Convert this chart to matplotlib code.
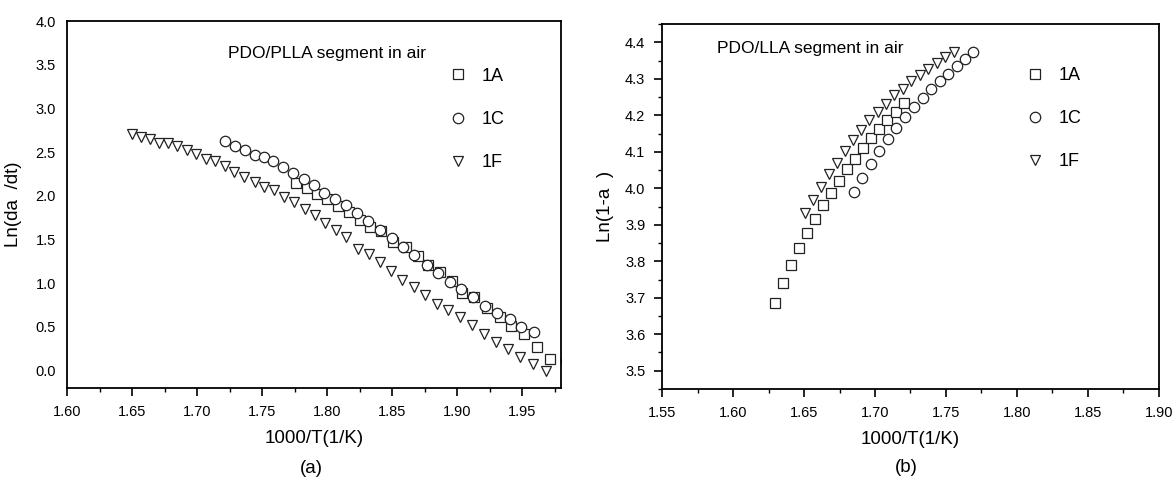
"""Two-panel Arrhenius-style scatter: PDO/PLLA (a) and PDO/LLA (b) segments in air."""
import numpy as np
import matplotlib
matplotlib.use("Agg")
import matplotlib.pyplot as plt
from matplotlib.ticker import MultipleLocator

plt.rcParams["font.family"] = ["Liberation Sans", "DejaVu Sans"]

# ---- panel (a): Ln(da/dt) vs 1000/T ----
a_x_1A = [1.776, 1.7842, 1.7921, 1.8003, 1.8085, 1.817, 1.8251, 1.8333, 1.8418,
          1.851, 1.8607, 1.8696, 1.878, 1.887, 1.8959, 1.9041, 1.913, 1.9232,
          1.9329, 1.9418, 1.9513, 1.9615, 1.9712]
a_y_1A = [2.147, 2.089, 2.024, 1.96, 1.883, 1.814, 1.727, 1.643, 1.593,
          1.474, 1.417, 1.314, 1.207, 1.131, 1.028, 0.883, 0.837, 0.719,
          0.616, 0.513, 0.414, 0.265, 0.132]

a_x_1C = [1.7213, 1.7292, 1.7368, 1.7444, 1.7518, 1.7588, 1.7664, 1.774, 1.7819,
          1.7898, 1.798, 1.8061, 1.8143, 1.8231, 1.8316, 1.8404, 1.85, 1.8587,
          1.867, 1.877, 1.8857, 1.8946, 1.9028, 1.9125, 1.9214, 1.9304, 1.9406,
          1.9495, 1.9589, 1.9835]
a_y_1C = [2.628, 2.567, 2.521, 2.464, 2.445, 2.395, 2.33, 2.265, 2.189,
          2.12, 2.036, 1.96, 1.891, 1.803, 1.707, 1.612, 1.52, 1.417,
          1.32, 1.207, 1.12, 1.016, 0.932, 0.837, 0.742, 0.654, 0.589,
          0.501, 0.437, 0.11]

a_x_1F = [1.6497, 1.657, 1.6637, 1.671, 1.6775, 1.6848, 1.692, 1.6994, 1.7067,
          1.714, 1.7213, 1.7287, 1.736, 1.7442, 1.7515, 1.7594, 1.7667, 1.7746,
          1.7827, 1.7904, 1.7988, 1.8067, 1.8149, 1.8237, 1.8319, 1.8404, 1.8491,
          1.8579, 1.8667, 1.8754, 1.8842, 1.893, 1.902, 1.9114, 1.9208, 1.9298,
          1.9392, 1.9488, 1.9582, 1.9684]
a_y_1F = [2.712, 2.674, 2.647, 2.609, 2.609, 2.571, 2.521, 2.483, 2.426,
          2.395, 2.342, 2.273, 2.216, 2.158, 2.101, 2.063, 1.987, 1.93,
          1.853, 1.777, 1.688, 1.604, 1.528, 1.394, 1.337, 1.241, 1.138,
          1.039, 0.955, 0.859, 0.764, 0.688, 0.611, 0.516, 0.42, 0.325,
          0.248, 0.16, 0.076, 0.0]

# ---- panel (b): Ln(1-a) vs 1000/T ----
b_x_1A = [1.6296, 1.6355, 1.6411, 1.6464, 1.6518, 1.6577, 1.6633, 1.6689, 1.6745,
          1.6801, 1.6857, 1.6913, 1.6972, 1.7031, 1.7087, 1.7146, 1.7205]
b_y_1A = [3.687, 3.74, 3.789, 3.836, 3.877, 3.917, 3.953, 3.988, 4.02,
          4.052, 4.081, 4.109, 4.137, 4.163, 4.188, 4.209, 4.234]

b_x_1C = [1.6852, 1.6911, 1.6969, 1.7025, 1.709, 1.7151, 1.7213, 1.7274, 1.7335,
          1.7397, 1.7458, 1.7517, 1.7576, 1.7632, 1.7691]
b_y_1C = [3.99, 4.029, 4.067, 4.102, 4.136, 4.166, 4.195, 4.223, 4.247,
          4.271, 4.293, 4.314, 4.334, 4.353, 4.373]

b_x_1F = [1.6507, 1.6566, 1.6619, 1.6676, 1.6734, 1.6788, 1.6847, 1.6903, 1.6959,
          1.7018, 1.7079, 1.7135, 1.7194, 1.7255, 1.7314, 1.7373, 1.7434, 1.7496,
          1.7557]
b_y_1F = [3.931, 3.967, 4.003, 4.038, 4.07, 4.102, 4.132, 4.159, 4.187,
          4.209, 4.232, 4.255, 4.273, 4.293, 4.31, 4.328, 4.343, 4.359,
          4.373]

labels = ["1A", "1C", "1F"]
markers = ["s", "o", "v"]
msizes = {"s": 6.5, "o": 7.5, "v": 7.5}


def scatter_panel(ax, series, note, note_xy, leg_anchor):
    for (x, y), lab, m in zip(series, labels, markers):
        ax.plot(x, y, linestyle="none", marker=m, markersize=msizes[m],
                markerfacecolor="white", markeredgecolor="#222222",
                markeredgewidth=0.9, label=lab)
    ax.text(*note_xy, note, transform=ax.transAxes, ha="center", va="center",
            fontsize=12.5)
    ax.legend(loc="center left", bbox_to_anchor=leg_anchor, frameon=False,
              fontsize=13, handlelength=1.0, handletextpad=0.8,
              labelspacing=1.45, borderpad=0, borderaxespad=0, numpoints=1)
    for s in ax.spines.values():
        s.set_linewidth(1.3)
    ax.tick_params(labelsize=10.5)


fig = plt.figure(figsize=(11.74, 4.84), dpi=100)
ax1 = fig.add_axes([0.0571, 0.1983, 0.4208, 0.7583])
ax2 = fig.add_axes([0.5639, 0.1963, 0.4233, 0.754])

scatter_panel(ax1, [(a_x_1A, a_y_1A), (a_x_1C, a_y_1C), (a_x_1F, a_y_1F)],
              "PDO/PLLA segment in air", (0.526, 0.912), (0.774, 0.732))
ax1.set_xlim(1.60, 1.98)
ax1.set_ylim(-0.2, 4.0)
ax1.xaxis.set_minor_locator(MultipleLocator(0.025))
ax1.yaxis.set_major_locator(MultipleLocator(0.5))
ax1.set_xticks(np.arange(1.60, 1.96, 0.05))
ax1.set_xticklabels([f"{v:.2f}" for v in np.arange(1.60, 1.96, 0.05)])
ax1.tick_params(axis="x", which="major", direction="out", length=6, width=1.2, pad=6)
ax1.tick_params(axis="x", which="minor", direction="out", length=3, width=1.0)
ax1.tick_params(axis="y", which="major", length=0, pad=8)
ax1.set_xlabel("1000/T(1/K)", fontsize=13.5, labelpad=8)
ax1.set_ylabel("Ln(da  /dt)", fontsize=13.5, labelpad=10)

scatter_panel(ax2, [(b_x_1A, b_y_1A), (b_x_1C, b_y_1C), (b_x_1F, b_y_1F)],
              "PDO/LLA segment in air", (0.299, 0.932), (0.732, 0.741))
ax2.set_xlim(1.55, 1.90)
ax2.set_ylim(3.45, 4.45)
ax2.xaxis.set_minor_locator(MultipleLocator(0.025))
ax2.yaxis.set_minor_locator(MultipleLocator(0.05))
ax2.set_xticks(np.arange(1.55, 1.91, 0.05))
ax2.set_xticklabels([f"{v:.2f}" for v in np.arange(1.55, 1.91, 0.05)])
ax2.set_yticks(np.arange(3.5, 4.41, 0.1))
ax2.set_yticklabels([f"{v:.1f}" for v in np.arange(3.5, 4.41, 0.1)])
ax2.tick_params(which="major", direction="out", length=6, width=1.2, pad=6)
ax2.tick_params(which="minor", direction="out", length=3, width=1.0)
ax2.set_xlabel("1000/T(1/K)", fontsize=13.5, labelpad=8)
ax2.set_ylabel("Ln(1-a  )", fontsize=13.5, labelpad=8)

fig.text(0.265, 0.033, "(a)", ha="center", va="center", fontsize=13.5)
fig.text(0.772, 0.035, "(b)", ha="center", va="center", fontsize=13.5)

fig.savefig("out.png", dpi=100)
